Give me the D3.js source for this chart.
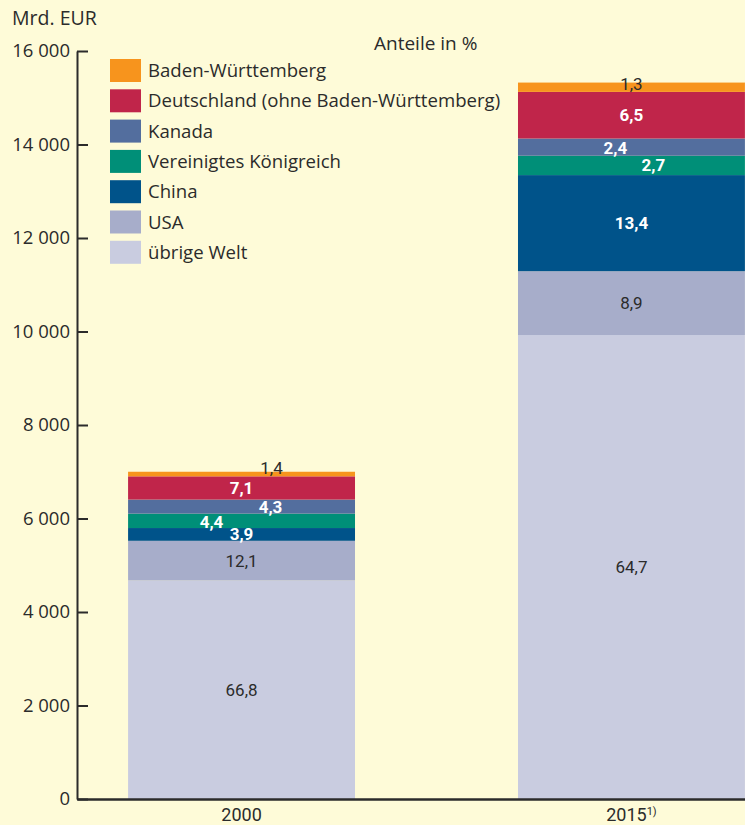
<!DOCTYPE html>
<html>
<head>
<meta charset="utf-8">
<script src="https://cdn.jsdelivr.net/npm/d3@7"></script>
<style>
  body { margin: 0; background: #fefbd8; }
  text { font-family: Roboto, "Liberation Sans", sans-serif; fill: #2b2b2b; }
  .wide { font-family: "Open Sans", sans-serif; }
</style>
</head>
<body>
<div id="chart"></div>
<script>
// data
var years = ["2000", "2015"];
var totals = [7000, 15340]; // Mrd. EUR
var regions = ["übrige Welt", "USA", "China", "Vereinigtes Königreich", "Kanada", "Deutschland (ohne Baden-Württemberg)", "Baden-Württemberg"];
var shares2000 = [66.8, 12.1, 3.9, 4.4, 4.3, 7.1, 1.4];
var shares2015 = [64.7, 8.9, 13.4, 2.7, 2.4, 6.5, 1.3];

var colors = ["#c9cce0", "#a7adca", "#00538a", "#008f78", "#536e9e", "#c0254a", "#f7941d"];
var boldLabel = [false, false, true, true, true, true, false];
// small horizontal / vertical nudges of the share labels, as in the original
var labelDx = [[0, 0, 0, -30, 29, 0, 30], [0, 0, 0, 22, -16, 0, 0]];
var labelDy = [[0, 0, 0, 1, 0, 0, -6], [0, 0, 0, 0, 1, 0, -3]];

var svgWidth = 745;
var svgHeight = 825;

var svg = d3.select("#chart")
    .append("svg")
    .attr("width", svgWidth)
    .attr("height", svgHeight);

svg.append("rect")
    .attr("width", svgWidth)
    .attr("height", svgHeight)
    .attr("fill", "#fefbd8");

// build table for stacking
var shares = [shares2000, shares2015];
var table = years.map(function(y, i) {
    var row = { year: y };
    regions.forEach(function(r, j) {
        row[r] = shares[i][j] * totals[i] / 100;
    });
    return row;
});

var series = d3.stack().keys(regions)(table);

var x = d3.scaleBand()
    .domain(years)
    .range([77, 796])
    .paddingInner(0.418)
    .paddingOuter(0.131);

var y = d3.scaleLinear()
    .domain([0, 16000])
    .range([799, 51]);

var de = d3.formatLocale({ decimal: ",", thousands: " ", grouping: [3], currency: ["", " €"] });
var fmtTick = de.format(",");
var fmtShare = de.format(".1f");

// bars
var layers = svg.selectAll("g.layer")
    .data(series)
    .enter()
    .append("g")
    .attr("class", "layer")
    .attr("fill", (d, i) => colors[i]);

layers.selectAll("rect")
    .data(d => d)
    .enter()
    .append("rect")
    .attr("x", d => x(d.data.year))
    .attr("y", d => y(d[1]))
    .attr("width", x.bandwidth())
    .attr("height", d => y(d[0]) - y(d[1]));

// share labels
series.forEach(function(s, j) {
    s.forEach(function(d, i) {
        svg.append("text")
            .attr("x", x(d.data.year) + x.bandwidth() / 2 + labelDx[i][j])
            .attr("y", (y(d[0]) + y(d[1])) / 2 + labelDy[i][j])
            .attr("dy", "0.35em")
            .style("text-anchor", "middle")
            .style("font-size", "17px")
            .style("font-weight", boldLabel[j] ? "bold" : "normal")
            .style("fill", boldLabel[j] ? "#ffffff" : "#2b2b2b")
            .text(fmtShare(shares[i][j]));
    });
});

// y axis
var leftAxis = d3.axisLeft(y)
    .tickValues(d3.range(0, 16001, 2000))
    .tickSize(-11)
    .tickSizeOuter(0)
    .tickPadding(7)
    .tickFormat(fmtTick);

var yAxisG = svg.append("g")
    .attr("transform", "translate(77,0)")
    .call(leftAxis);
yAxisG.selectAll("line, path").attr("stroke", "#2b2b2b").attr("stroke-width", 2);
yAxisG.selectAll("text")
    .attr("class", "wide")
    .style("font-size", "18.5px")
    .attr("fill", "#2b2b2b");

// x axis
var bottomAxis = d3.axisBottom(x).tickSize(0).tickPadding(9);
var xAxisG = svg.append("g")
    .attr("transform", "translate(0,799)")
    .call(bottomAxis);
xAxisG.select("path").attr("stroke", "#2b2b2b").attr("stroke-width", 2.5);
xAxisG.selectAll("text").style("font-size", "18px").attr("fill", "#2b2b2b");
xAxisG.selectAll("text").filter(d => d === "2015")
    .append("tspan")
    .attr("dy", "-0.5em")
    .style("font-size", "11px")
    .text("1)");

// axis titles
svg.append("text")
    .attr("class", "wide")
    .attr("x", 12)
    .attr("y", 25)
    .style("font-size", "19.5px")
    .text("Mrd. EUR");

svg.append("text")
    .attr("class", "wide")
    .attr("x", 374)
    .attr("y", 50)
    .style("font-size", "19px")
    .text("Anteile in %");

// legend (top item first)
var legendOrder = regions.slice().reverse();
var legend = svg.selectAll("g.legend")
    .data(legendOrder)
    .enter()
    .append("g")
    .attr("class", "legend")
    .attr("transform", (d, i) => `translate(110, ${59 + i * 30.3})`);

legend.append("rect")
    .attr("width", 31)
    .attr("height", 23)
    .attr("fill", d => colors[regions.indexOf(d)]);

legend.append("text")
    .attr("class", "wide")
    .attr("x", 38)
    .attr("y", 11.5)
    .attr("dy", "0.35em")
    .style("font-size", "18.6px")
    .text(d => d);
</script>
</body>
</html>
